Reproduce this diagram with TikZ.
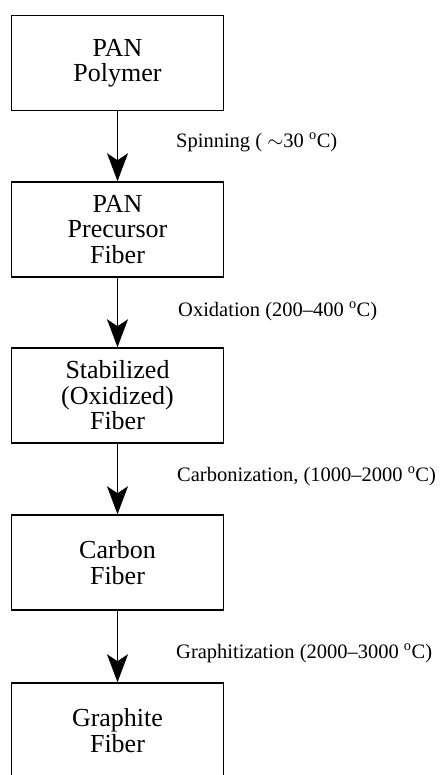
\documentclass[tikz,border=0pt]{standalone}
\usepackage{fontspec}
\setmainfont{Liberation Serif}
\usetikzlibrary{arrows.meta}
\begin{document}
\begin{tikzpicture}[x=1pt,y=-1pt,
  box/.style={draw, line width=1.5pt, minimum width=212pt, minimum height=95pt,
    align=center, font=\fontsize{26}{25.5}\selectfont, inner sep=0pt},
  flow/.style={line width=1.5pt, -{Stealth[length=28pt,width=21pt,inset=7pt]}},
  lbl/.style={anchor=base west, font=\fontsize{20.5}{24}\selectfont, inner sep=0pt}]
\useasboundingbox (0,0) rectangle (441,775);
\clip (0,0) rectangle (441,775);
\node[box] (b1) at (117.5,63) {PAN\\Polymer};
\node[box] (b2) at (117.5,229.5) {PAN\\Precursor\\Fiber};
\node[box] (b3) at (117.5,395.5) {Stabilized\\(Oxidized)\\Fiber};
\node[box] (b4) at (117.5,562.5) {Carbon\\Fiber};
\node[box] (b5) at (117.5,730.5) {Graphite\\Fiber};
\draw[flow] (b1) -- (b2);
\draw[flow] (b2) -- (b3);
\draw[flow] (b3) -- (b4);
\draw[flow] (b4) -- (b5);
\node[lbl] (l1) at (176,147.5) {Spinning ( $\sim$30 \textsuperscript{o}C)};
\node[lbl] (l2) at (178,316.5) {Oxidation (200--400 \textsuperscript{o}C)};
\node[lbl] (l3) at (177,481.5) {Carbonization, (1000--2000 \textsuperscript{o}C)};
\node[lbl] (l4) at (176,658) {Graphitization (2000--3000 \textsuperscript{o}C)};
\end{tikzpicture}
\end{document}
